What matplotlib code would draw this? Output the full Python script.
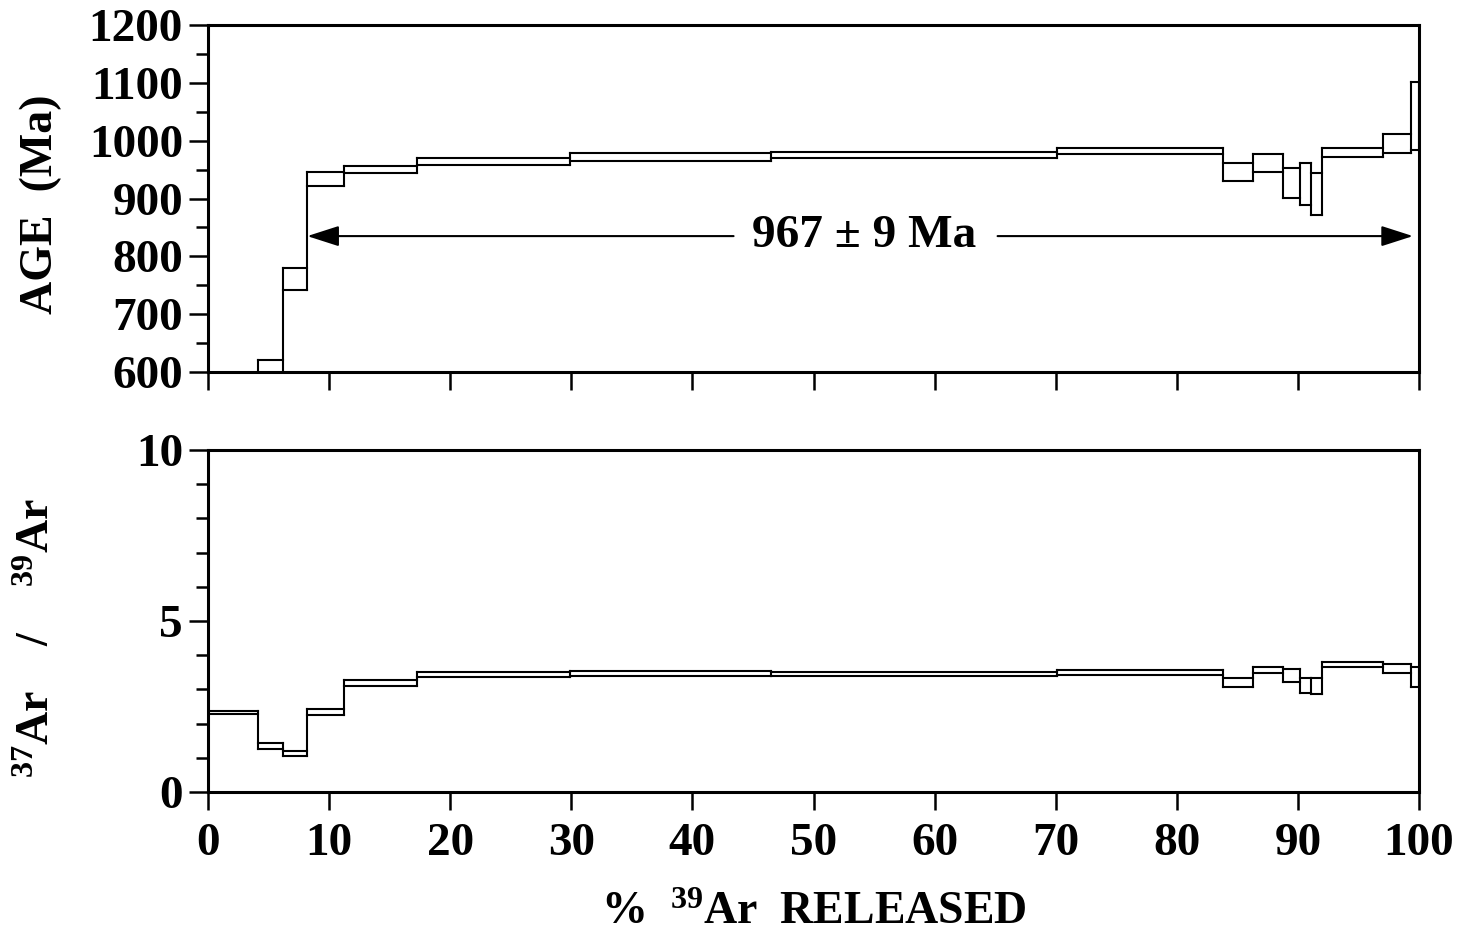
import matplotlib
matplotlib.use('Agg')
import matplotlib.pyplot as plt
from matplotlib.ticker import MultipleLocator

plt.rcParams['font.family'] = ['Liberation Serif', 'DejaVu Serif']
plt.rcParams['font.weight'] = 'bold'
plt.rcParams['mathtext.fontset'] = 'custom'
plt.rcParams['mathtext.rm'] = 'Liberation Serif:bold'
plt.rcParams['mathtext.it'] = 'Liberation Serif:bold:italic'
plt.rcParams['mathtext.bf'] = 'Liberation Serif:bold'

# ---- data ----
cum_release = [0, 4.1, 6.2, 8.2, 11.2, 17.3, 29.9, 46.5, 70.1, 83.8,
               86.3, 88.8, 90.2, 91.1, 92.0, 97.0, 99.3, 100]
age_low = [480, 585, 741, 922, 944, 958, 965, 970, 977, 930,
           946, 901, 889, 871, 972, 979, 983]
age_high = [520, 621, 779, 946, 957, 970, 979, 981, 988, 962,
            977, 953, 962, 944, 988, 1012, 1101]
ratio_low = [2.28, 1.25, 1.05, 2.25, 3.10, 3.36, 3.39, 3.39, 3.42, 3.07,
             3.48, 3.22, 2.89, 2.87, 3.65, 3.48, 3.07]
ratio_high = [2.37, 1.43, 1.21, 2.43, 3.27, 3.51, 3.54, 3.51, 3.57, 3.33,
              3.65, 3.60, 3.33, 3.33, 3.80, 3.74, 3.65]
plateau_label = "967 ± 9 Ma"
plateau_start = 8.2
plateau_end = 99.5
plateau_age_pos = 835
x_ticks = list(range(0, 101, 10))

LW = 1.5
SPINE_LW = 2.2
FS = 34


def draw_spectrum(ax, x, lo, hi):
    n = len(lo)
    for vals in (lo, hi):
        lc = ax.hlines(vals, x[:-1], x[1:], colors='black', linewidth=LW)
        lc.set_capstyle('projecting')
    xs, ymin, ymax = [], [], []
    for b in range(n + 1):
        idx = [i for i in (b - 1, b) if 0 <= i < n]
        xs.append(x[b])
        ymin.append(min(lo[i] for i in idx))
        ymax.append(max(hi[i] for i in idx))
    lc = ax.vlines(xs, ymin, ymax, colors='black', linewidth=LW)
    lc.set_capstyle('projecting')


fig = plt.figure(figsize=(14.74, 9.43), dpi=100)
ax1 = fig.add_axes([0.1411, 0.6055, 0.8216, 0.3680])
ax2 = fig.add_axes([0.1411, 0.1601, 0.8216, 0.3627])

draw_spectrum(ax1, cum_release, age_low, age_high)
draw_spectrum(ax2, cum_release, ratio_low, ratio_high)

ax1.set_xlim(0, 100)
ax1.set_ylim(600, 1200)
ax2.set_xlim(0, 100)
ax2.set_ylim(0, 10)

for ax in (ax1, ax2):
    for sp in ax.spines.values():
        sp.set_linewidth(SPINE_LW)
    ax.set_xticks(x_ticks)
    ax.tick_params(axis='both', which='major', direction='out', width=1.8,
                   labelsize=FS)
    ax.tick_params(axis='y', which='major', length=14, pad=4)
    ax.tick_params(axis='y', which='minor', direction='out', length=8.5, width=1.8)
    ax.tick_params(axis='x', which='major', length=13)

ax1.yaxis.set_major_locator(MultipleLocator(100))
ax1.yaxis.set_minor_locator(MultipleLocator(50))
ax1.tick_params(axis='x', labelbottom=False)
ax2.yaxis.set_major_locator(MultipleLocator(5))
ax2.yaxis.set_minor_locator(MultipleLocator(1))
ax2.tick_params(axis='x', pad=9)

for lab in ax1.get_yticklabels() + ax2.get_yticklabels() + ax2.get_xticklabels():
    lab.set_fontweight('bold')

ax1.set_ylabel('AGE  (Ma)', fontsize=33, fontweight='bold')
ax1.yaxis.label.set_va('center')
ax1.yaxis.set_label_coords(-0.138, 0.482)
ax2.set_ylabel(r'$^{37}$Ar    /    $^{39}$Ar', fontsize=33, fontweight='bold')
ax2.yaxis.label.set_va('center')
ax2.yaxis.set_label_coords(-0.140, 0.45)
ax2.set_xlabel(r'%  $^{39}$Ar  RELEASED', fontsize=33, fontweight='bold', labelpad=20)

# plateau annotation
text_x = 54.2
ax1.text(text_x, plateau_age_pos, plateau_label, ha='center', va='center',
         fontsize=FS, fontweight='bold')
arrow_style = '-|>,head_length=1.4,head_width=0.45'
ax1.annotate('', xy=(plateau_start, plateau_age_pos), xytext=(43.4, plateau_age_pos),
             arrowprops=dict(arrowstyle=arrow_style, color='black', lw=LW,
                             mutation_scale=14, shrinkA=0, shrinkB=0))
ax1.annotate('', xy=(plateau_end, plateau_age_pos), xytext=(65.2, plateau_age_pos),
             arrowprops=dict(arrowstyle=arrow_style, color='black', lw=LW,
                             mutation_scale=14, shrinkA=0, shrinkB=0))

fig.savefig('out.png', dpi=100)
